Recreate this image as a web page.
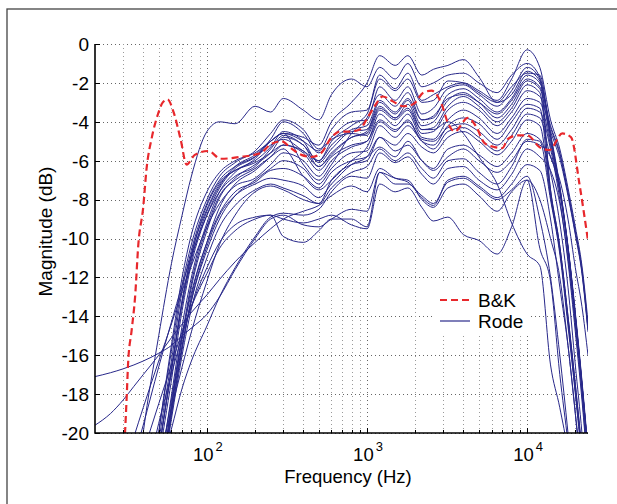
<!DOCTYPE html>
<html>
<head>
<meta charset="utf-8">
<script src="https://cdn.jsdelivr.net/npm/d3@7"></script>
<style>
  body { margin: 0; background: #fff; }
  svg { display: block; font-family: 'Liberation Sans', Arial, sans-serif; }
</style>
</head>
<body>
<div id="chart"></div>
<script>
// shared frequency grid (Hz) for the Rode responses
const freqHz = [20, 25, 30, 35, 40, 50, 60, 70, 80, 100, 120, 150, 200, 250, 300,
  400, 500, 600, 800, 1000, 1200, 1500, 1800, 2200, 2600, 3200, 4000, 5000, 6500, 8000,
  10000, 12000, 14000, 16000, 18000, 20000, 22000, 24000];

// Rode magnitudes (dB), one array per measured capsule
const rode01 = [-44, -39, -34, -30, -26.5, -20, -15.5, -12, -9.8, -7.6, -6.6, -6.0, -5.6, -5.0, -4.6,
  -4.8, -5.2, -4.0, -3.0, -2.0, -0.6, -1.1, -0.6, -1.6, -1.3, -1.1, -0.8, -1.7, -3.0, -2.6,
  -1.4, -1.9, -4.6, -7.3, -10.4, -13.9, -17.4, -21];
const rode02 = [-45, -40, -35.5, -31.5, -27, -20.5, -16.3, -12.7, -10.6, -8.2, -7.0, -6.3, -5.8, -5.2, -4.9,
  -5.5, -6.0, -5.0, -4.2, -3.6, -1.6, -2.3, -1.5, -2.9, -2.6, -2.2, -2.0, -2.4, -2.9, -1.8,
  -0.3, -1.2, -3.9, -5.4, -7.4, -9.4, -11.4, -14.3];
const rode03 = [-38, -33, -28, -24, -20, -15, -11.3, -8.8, -6.8, -4.5, -4.0, -4.1, -3.2, -3.5, -2.8,
  -3.4, -3.9, -2.6, -1.8, -2.2, -1.2, -1.8, -1.0, -2.2, -2.0, -1.6, -1.5, -2.0, -2.5, -1.6,
  -1.0, -1.7, -4.7, -7.4, -10.5, -14, -17.5, -21];
const rode04 = [-46, -41, -36.5, -32.5, -28, -21.5, -17.3, -13.7, -11.3, -8.8, -7.4, -6.4, -5.8, -4.9, -4.0,
  -4.6, -5.6, -4.8, -4.0, -3.9, -2.2, -2.9, -2.2, -3.6, -3.3, -2.3, -2.1, -2.6, -3.2, -2.4,
  -1.2, -1.8, -7.5, -10.4, -14, -17.5, -21, -25];
const rode05 = [-47, -42, -37.5, -33.5, -29, -22.5, -18.1, -14.5, -12, -9.2, -7.6, -6.6, -5.9, -5.0, -4.6,
  -6.2, -7.0, -6.2, -4.6, -3.8, -2.6, -3.2, -2.5, -3.9, -3.8, -2.6, -2.3, -2.8, -3.5, -2.8,
  -1.6, -2.0, -4.2, -5.6, -7.6, -9.6, -11.6, -14.6];
const rode06 = [-45, -40.5, -36, -32, -27.5, -21, -16.8, -13.2, -10.8, -8.5, -7.2, -6.5, -6.0, -5.3, -4.5,
  -5.0, -6.1, -5.4, -4.5, -4.4, -3.0, -3.6, -2.9, -4.2, -4.0, -2.9, -2.5, -3.0, -3.8, -3.1,
  -1.9, -2.3, -5.0, -7.5, -10.5, -14, -17.5, -21];
const rode07 = [-48, -43, -38.5, -34.5, -30, -23.5, -18.6, -15.2, -12.5, -9.6, -7.9, -6.9, -6.2, -5.6, -4.8,
  -5.2, -6.3, -5.7, -4.8, -4.6, -3.3, -3.8, -3.1, -4.4, -4.3, -3.2, -2.7, -3.2, -4.0, -3.3,
  -2.1, -2.5, -7.5, -10.4, -14, -17.5, -21, -25];
const rode08 = [-44, -39.5, -35, -31, -26.5, -20, -15.8, -12.4, -10.3, -8.0, -6.8, -6.1, -5.5, -4.6, -3.9,
  -4.4, -5.4, -4.9, -4.6, -4.7, -3.4, -3.9, -3.4, -4.6, -4.5, -3.4, -3.0, -3.4, -4.2, -3.5,
  -2.4, -2.7, -4.5, -5.9, -7.8, -9.8, -11.8, -14.8];
const rode09 = [-49, -44, -39.5, -35.5, -31, -24, -19.1, -15.7, -13, -10.2, -8.4, -7.2, -6.5, -5.8, -5.2,
  -5.6, -6.5, -5.8, -5.2, -5.0, -3.6, -4.2, -3.6, -4.8, -4.9, -3.9, -3.4, -3.8, -4.6, -3.8,
  -2.8, -3.0, -5.2, -7.6, -10.6, -14.2, -17.6, -21.2];
const rode10 = [-47, -42.5, -38, -34, -29.5, -23, -18.6, -15, -12.3, -9.4, -7.8, -7.0, -6.4, -5.8, -5.4,
  -6.8, -7.5, -7.0, -6.0, -5.3, -4.0, -4.5, -3.9, -5.0, -5.2, -4.2, -3.8, -4.1, -4.9, -4.0,
  -3.1, -3.3, -7.8, -10.6, -14.2, -17.8, -21.2, -25.2];
const rode11 = [-46, -41, -36, -32, -27.5, -21, -16.8, -13.4, -11.1, -8.6, -7.3, -6.3, -5.7, -5.0, -4.6,
  -5.0, -5.5, -4.4, -3.5, -3.4, -1.8, -2.4, -1.8, -3.0, -2.9, -1.9, -2.0, -2.5, -3.0, -2.2,
  -1.5, -1.6, -4.8, -7.4, -10.4, -13.8, -17.3, -20.8];
const rode12 = [-40, -36, -32.5, -29.5, -27, -22, -18.3, -15, -12.8, -10.2, -8.7, -7.6, -7.1, -6.5, -6.4,
  -6.8, -7.4, -6.6, -6.0, -5.8, -5.3, -5.8, -5.0, -6.0, -6.5, -5.8, -5.4, -6.0, -6.6, -6.0,
  -5.0, -5.2, -5.8, -7.6, -10.5, -14, -17.5, -21];
const rode13 = [-42, -38, -34.5, -31, -28, -23, -19, -15.6, -13.2, -10.4, -8.8, -7.8, -7.2, -6.9, -7.0,
  -7.3, -7.9, -7.2, -6.2, -5.8, -4.8, -5.5, -5.2, -6.0, -6.4, -5.4, -5.2, -5.7, -6.3, -5.6,
  -4.6, -4.9, -6.6, -9.2, -12.5, -16.5, -20, -24];
const rode14 = [-48, -43, -38.5, -34.5, -30, -24, -18.8, -15.5, -13.2, -10.6, -9.0, -7.8, -7.0, -6.4, -6.0,
  -6.4, -7.2, -6.4, -5.6, -5.5, -4.2, -4.8, -4.2, -5.0, -5.4, -4.5, -4.3, -4.8, -5.5, -4.7,
  -3.6, -3.8, -5.8, -7.0, -9.0, -11.5, -13.5, -16];
const rode15 = [-50, -45, -40.5, -36.5, -31, -23.5, -19.3, -16, -13.6, -11, -9.4, -8.3, -7.5, -7.2, -7.4,
  -7.8, -8.2, -7.4, -6.6, -6.3, -5.4, -6.0, -5.6, -6.4, -6.9, -6.0, -5.9, -6.6, -7.2, -6.3,
  -4.9, -5.0, -8.0, -10.8, -14.5, -18, -21.5, -25.5];
const rode16 = [-44, -39, -34.5, -30.5, -27, -21, -16.7, -13.2, -10.9, -8.3, -7.1, -6.5, -6.1, -5.6, -5.2,
  -5.5, -6.3, -5.6, -4.8, -4.5, -3.2, -3.8, -3.3, -4.4, -4.4, -4.0, -4.6, -5.8, -7.2, -9.2,
  -10.8, -11.4, -16.5, -18.7, -21, -24, -27, -30];
const rode17 = [-27, -24.5, -22, -20.2, -18.7, -16.3, -14.4, -12.7, -11.4, -9.4, -8.2, -7.3, -6.9, -6.2, -5.6,
  -6.0, -6.8, -6.0, -5.3, -5.0, -3.9, -4.4, -4.0, -4.9, -5.0, -4.3, -4.1, -4.5, -5.2, -4.4,
  -3.3, -3.5, -5.4, -8.0, -11.2, -14.8, -18.3, -22];
const rode18 = [-29, -26, -23.5, -21.3, -19.6, -16.6, -14.3, -12.4, -10.9, -8.8, -7.6, -6.8, -6.3, -5.4, -4.7,
  -5.2, -6.0, -5.2, -4.4, -4.2, -2.9, -3.5, -2.8, -3.9, -3.7, -2.8, -2.6, -3.0, -3.6, -2.9,
  -1.8, -2.2, -4.3, -5.7, -7.7, -9.7, -11.7, -14.7];
const rode19 = [-36, -32.5, -29.5, -27, -25, -21.5, -18.8, -16.6, -14.8, -12.2, -10.3, -8.8, -7.6, -7.3, -7.5,
  -8.0, -8.2, -7.0, -6.2, -6.0, -4.8, -5.2, -4.6, -5.3, -5.6, -4.8, -4.5, -5.0, -5.7, -5.0,
  -3.9, -4.2, -7.8, -10.6, -14.2, -17.8, -21.2, -25.2];
const rode20 = [-45, -38, -33, -29, -26, -22.2, -19.8, -17.7, -16.3, -14.5, -13.0, -11.5, -9.9, -8.9, -8.7,
  -8.8, -8.5, -7.6, -6.8, -6.9, -5.6, -6.1, -5.8, -6.7, -7.2, -6.4, -6.3, -7.0, -7.5, -6.7,
  -5.4, -5.8, -6.5, -8.2, -11, -14.5, -18, -22];
const rode21 = [-17.1, -16.9, -16.7, -16.5, -16.3, -15.9, -15.5, -15.0, -14.6, -13.9, -13.0, -11.6, -10.0, -9.0, -8.8,
  -9.3, -9.4, -9.0, -8.5, -8.6, -6.6, -7.2, -7.2, -7.8, -8.2, -7.1, -6.9, -7.4, -8.0, -7.5,
  -6.8, -9.0, -12.0, -16.0, -20.0, -24, -28, -32];
const rode22 = [-19.6, -19.0, -18.3, -17.6, -17.0, -16.0, -15.1, -14.4, -13.8, -12.9, -12.1, -11.2, -10.2, -9.5, -9.0,
  -8.6, -8.3, -7.8, -7.3, -7.6, -6.4, -6.9, -7.1, -7.9, -8.3, -7.0, -6.8, -7.3, -7.9, -7.2,
  -6.2, -6.5, -9.0, -12.5, -15.5, -19, -22, -26];
const rode23 = [-34, -30.5, -27.5, -25, -23, -19.5, -17, -15, -13.5, -11.5, -10.2, -9.3, -8.9, -8.8, -9.9,
  -10.2, -9.6, -9.0, -9.0, -9.4, -6.6, -6.9, -7.0, -8.0, -8.4, -7.4, -7.2, -7.8, -8.6, -7.6,
  -7.0, -10.5, -12.2, -17.0, -20.5, -24, -27, -30];
const rode24 = [-30, -27, -24.5, -22.5, -21, -18.5, -16.5, -14.8, -13.5, -11.8, -10.5, -9.6, -9.0, -8.8, -9.0,
  -9.2, -9.0, -8.8, -9.3, -9.5, -7.2, -7.6, -7.4, -8.4, -9.1, -8.9, -9.8, -10.1, -10.8, -9.4,
  -7.0, -8.0, -10.0, -12.0, -15.5, -19, -23, -27];

const rodeCurves = [rode01, rode02, rode03, rode04, rode05, rode06, rode07, rode08, rode09, rode10,
  rode11, rode12, rode13, rode14, rode15, rode16, rode17, rode18, rode19, rode20,
  rode21, rode22, rode23, rode24];

// B&K reference microphone
const bkFreq = [29, 30.8, 31.6, 32.2, 33.9, 35.6, 37.3, 40, 42, 45.3, 49.5, 53, 56.8, 61.9, 68.5,
  74.7, 84, 102, 122, 164, 218, 246, 292, 335, 389, 450, 518, 600, 676, 780, 900, 990, 1115,
  1255, 1450, 1680, 1940, 2250, 2530, 2910, 3200, 3524, 4265, 4810, 5420, 6260, 7020, 7540,
  8700, 10040, 11940, 13780, 16600, 18830, 21220, 23900];
const bkMag = [-24, -20, -18, -16.4, -14.7, -13, -10.3, -8.4, -6.4, -4.8, -3.6, -3.0, -2.85, -3.5, -4.9,
  -6.2, -5.7, -5.5, -5.9, -5.8, -5.6, -5.2, -5.0, -5.35, -5.7, -5.8, -5.6, -4.8, -4.5, -4.5, -4.4, -3.9, -3.2,
  -2.7, -2.95, -3.2, -3.1, -2.5, -2.4, -3.05, -4.05, -4.5, -3.8, -4.25, -5.1, -5.3, -5.35, -4.9,
  -4.7, -4.7, -5.3, -5.45, -4.6, -4.8, -7.2, -10];

const yTicks = [0, -2, -4, -6, -8, -10, -12, -14, -16, -18, -20];
const xDecades = [100, 1000, 10000];
const xDecadeExp = ['2', '3', '4'];
const legendItems = ['B&K', 'Rode'];

const width = 617;
const height = 504;
const margin = { t: 44, r: 29, b: 71, l: 95 };
const blue = '#28288a';
const red = '#e8282c';

const svg = d3
  .select('#chart')
  .append('svg')
  .attr('width', width)
  .attr('height', height);

svg.append('rect').attr('width', width).attr('height', height).attr('fill', '#fff');

// figure frame
svg
  .append('rect')
  .attr('x', 7)
  .attr('y', 9)
  .attr('width', width + 10)
  .attr('height', height + 10)
  .attr('fill', 'none')
  .attr('stroke', '#444')
  .attr('stroke-width', 1.3);

const x = d3
  .scaleLog()
  .domain([20, 24000])
  .range([margin.l, width - margin.r]);
const y = d3
  .scaleLinear()
  .domain([-20, 0])
  .range([height - margin.b, margin.t]);

const x0 = x.range()[0];
const x1 = x.range()[1];
const yTop = y(0);
const yBot = y(-20);

svg
  .append('clipPath')
  .attr('id', 'plotClip')
  .append('rect')
  .attr('x', x0)
  .attr('y', yTop)
  .attr('width', x1 - x0)
  .attr('height', yBot - yTop);

// dotted grid
const grid = svg.append('g').attr('stroke', '#9a9a9a').attr('stroke-width', 1).attr('stroke-dasharray', '1,3');
grid
  .selectAll('line.h')
  .data(yTicks)
  .join('line')
  .attr('class', 'h')
  .attr('stroke', '#666')
  .attr('x1', x0)
  .attr('x2', x1)
  .attr('y1', (d) => Math.round(y(d)) + 0.5)
  .attr('y2', (d) => Math.round(y(d)) + 0.5);
grid
  .selectAll('line.v')
  .data(x.ticks().filter((d) => d > 20))
  .join('line')
  .attr('class', 'v')
  .attr('stroke', (d) => (xDecades.includes(d) ? '#666' : null))
  .attr('x1', (d) => Math.round(x(d)) + 0.5)
  .attr('x2', (d) => Math.round(x(d)) + 0.5)
  .attr('y1', yTop)
  .attr('y2', yBot);

const line = d3
  .line()
  .x((d) => x(d[0]))
  .y((d) => y(d[1]))
  .curve(d3.curveMonotoneX);

const plot = svg.append('g').attr('clip-path', 'url(#plotClip)');

plot
  .selectAll('path.rode')
  .data(rodeCurves)
  .join('path')
  .attr('class', 'rode')
  .attr('d', (vals) => line(vals.map((v, i) => [freqHz[i], v])))
  .attr('fill', 'none')
  .attr('stroke', blue)
  .attr('stroke-width', 1);

plot
  .append('path')
  .attr('d', line(bkFreq.map((f, i) => [f, bkMag[i]])))
  .attr('fill', 'none')
  .attr('stroke', red)
  .attr('stroke-width', 2.2)
  .attr('stroke-dasharray', '7,4');

// axes
const axes = svg.append('g').attr('stroke', '#000');
axes.append('line').attr('x1', x0).attr('x2', x0).attr('y1', yTop).attr('y2', yBot + 0.75).attr('stroke-width', 1.6);
axes.append('line').attr('x1', x0).attr('x2', x1).attr('y1', yBot).attr('y2', yBot).attr('stroke-width', 1.6);
axes
  .selectAll('line.yt')
  .data(yTicks)
  .join('line')
  .attr('class', 'yt')
  .attr('x1', x0)
  .attr('x2', x0 + 5)
  .attr('y1', (d) => Math.round(y(d)) + 0.5)
  .attr('y2', (d) => Math.round(y(d)) + 0.5)
  .attr('stroke-width', 1);
axes
  .selectAll('line.xt')
  .data(x.ticks().filter((d) => d > 20))
  .join('line')
  .attr('class', 'xt')
  .attr('x1', (d) => Math.round(x(d)) + 0.5)
  .attr('x2', (d) => Math.round(x(d)) + 0.5)
  .attr('y1', yBot)
  .attr('y2', (d) => (xDecades.includes(d) ? yBot - 5 : yBot - 3))
  .attr('stroke-width', 1);

svg
  .append('g')
  .selectAll('text')
  .data(yTicks)
  .join('text')
  .attr('x', x0 - 6)
  .attr('y', (d) => y(d))
  .attr('dy', '0.36em')
  .attr('text-anchor', 'end')
  .attr('font-size', 19)
  .attr('fill', '#000')
  .text((d) => `${d}`);

const xl = svg
  .append('g')
  .selectAll('text')
  .data(xDecades)
  .join('text')
  .attr('x', (d) => x(d) + 1)
  .attr('y', yBot + 28)
  .attr('text-anchor', 'middle')
  .attr('font-size', 18.5)
  .attr('fill', '#000');
xl.append('tspan').text('10');
xl.append('tspan')
  .attr('dx', 2)
  .attr('dy', -10)
  .attr('font-size', 13)
  .text((d, i) => xDecadeExp[i]);

svg
  .append('text')
  .attr('x', 348)
  .attr('y', 483)
  .attr('text-anchor', 'middle')
  .attr('font-size', 18.5)
  .text('Frequency (Hz)');

svg
  .append('text')
  .attr('transform', `translate(52, ${(yTop + yBot) / 2 - 7}) rotate(-90)`)
  .attr('text-anchor', 'middle')
  .attr('font-size', 19)
  .text('Magnitude (dB)');

// legend
const legend = svg.append('g').attr('transform', 'translate(432, 282)');
legend.append('rect').attr('width', 99).attr('height', 54).attr('fill', '#fff');
const items = legend
  .selectAll('g')
  .data(legendItems)
  .join('g')
  .attr('transform', (d, i) => `translate(0, ${18 + i * 21})`);
items
  .append('line')
  .attr('x1', 8)
  .attr('x2', 38)
  .attr('stroke', (d, i) => (i === 0 ? red : blue))
  .attr('stroke-width', (d, i) => (i === 0 ? 2.2 : 1.6))
  .attr('stroke-opacity', (d, i) => (i === 0 ? 1 : 0.75))
  .attr('stroke-dasharray', (d, i) => (i === 0 ? '7,4' : null));
items
  .append('text')
  .attr('x', 46)
  .attr('dy', '0.36em')
  .attr('font-size', 19)
  .text((d) => d);
</script>
</body>
</html>
